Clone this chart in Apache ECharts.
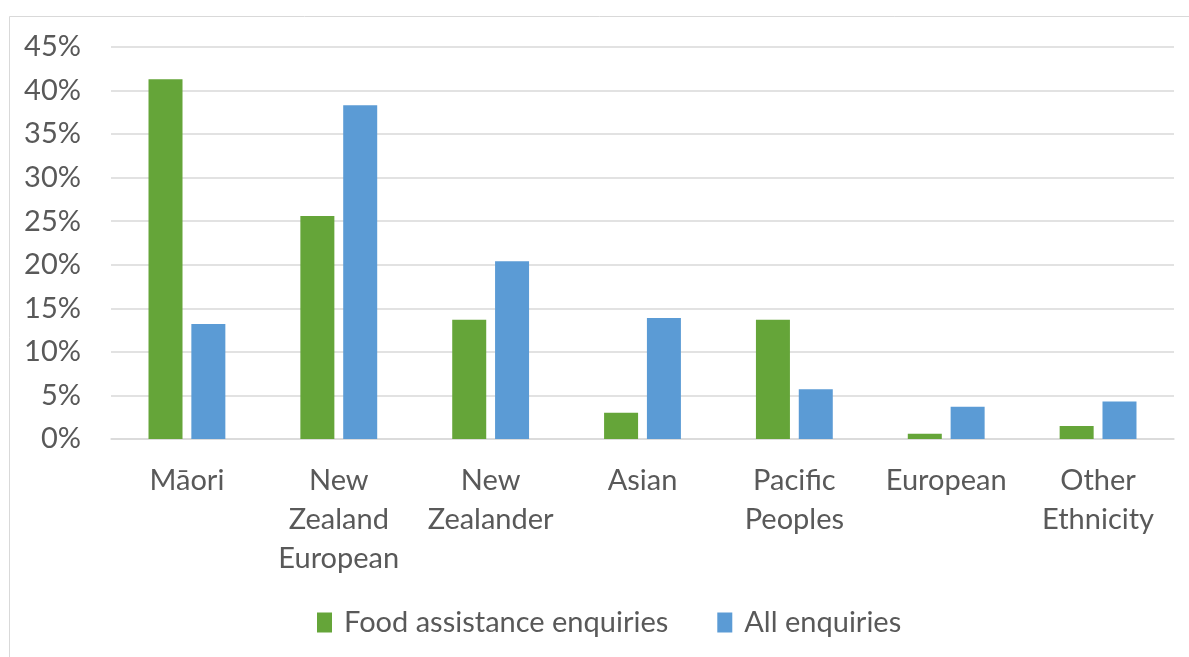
<!DOCTYPE html>
<html>
<head>
<meta charset="utf-8">
<script src="https://cdn.jsdelivr.net/npm/echarts@6/dist/echarts.min.js"></script>
<style>
  html, body { margin: 0; padding: 0; background: #fff; }
  #chart { width: 1189px; height: 657px; }
</style>
</head>
<body>
<div id="chart"></div>
<script>
// Share of enquiries by ethnicity (percent)
const categories = ['Māori', 'New\nZealand\nEuropean', 'New\nZealander', 'Asian', 'Pacific\nPeoples', 'European', 'Other\nEthnicity'];
const foodAssistance = [41.3, 25.6, 13.7, 3.0, 13.7, 0.6, 1.5];
const allEnquiries = [13.2, 38.3, 20.4, 13.9, 5.7, 3.7, 4.3];
const seriesNames = ['Food assistance enquiries', 'All enquiries'];
const yTicks = { min: 0, max: 45, interval: 5 };

const FONT = 'Lato, "Open Sans", sans-serif';
const TEXT = '#595959';
const SIZE = 29;

const chart = echarts.init(document.getElementById('chart'), null, { renderer: 'canvas' });
chart.setOption({
  animation: false,
  backgroundColor: '#fff',
  graphic: [{
    type: 'rect',
    left: 7, top: 14,
    shape: { width: 1200, height: 660 },
    style: { fill: 'none', stroke: '#d9d9d9', lineWidth: 1 },
    silent: true, z: -1
  }],
  grid: { left: 111, right: 15, top: 47, bottom: 218, containLabel: false },
  legend: {
    data: seriesNames,
    top: 603,
    left: 312,
    itemWidth: 15, itemHeight: 20, itemGap: 49,
    icon: 'rect',
    textStyle: { color: TEXT, fontFamily: FONT, fontSize: SIZE, padding: [0, 0, 0, 7] }
  },
  xAxis: {
    type: 'category',
    data: categories,
    axisLine: { lineStyle: { color: '#d9d9d9', width: 1.5 } },
    axisTick: { show: false },
    axisLabel: { color: TEXT, fontFamily: FONT, fontSize: SIZE, lineHeight: 39, margin: 22, interval: 0 }
  },
  yAxis: {
    type: 'value',
    min: yTicks.min, max: yTicks.max, interval: yTicks.interval,
    axisLine: { show: false },
    axisTick: { show: false },
    splitLine: { lineStyle: { color: '#d9d9d9', width: 1.5 } },
    axisLabel: { color: TEXT, fontFamily: FONT, fontSize: SIZE, margin: 30, formatter: v => v + '%' }
  },
  series: [
    { name: seriesNames[0], type: 'bar', data: foodAssistance, barWidth: 34, barGap: '26%',
      itemStyle: { color: '#65a539' } },
    { name: seriesNames[1], type: 'bar', data: allEnquiries, barWidth: 34,
      itemStyle: { color: '#5b9bd5' } }
  ]
});
</script>
</body>
</html>
